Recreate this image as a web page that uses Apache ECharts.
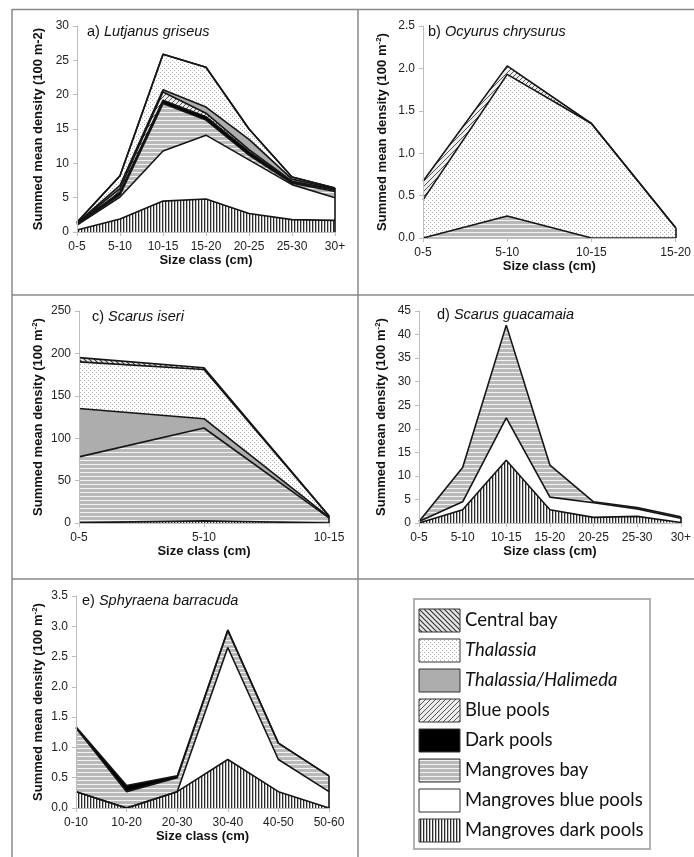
<!DOCTYPE html>
<html><head><meta charset="utf-8">
<script src="https://cdn.jsdelivr.net/npm/echarts@6/dist/echarts.min.js"></script>
<style>html,body{margin:0;padding:0;background:#fff}#c{width:694px;height:857px}</style>
</head><body><div id="c"></div>
<script>
// ---------- DATA ----------
const legendNames = ['Central bay','Thalassia','Thalassia/Halimeda','Blue pools','Dark pools','Mangroves bay','Mangroves blue pools','Mangroves dark pools'];

// a) Lutjanus griseus
const catsA = ['0-5','5-10','10-15','15-20','20-25','25-30','30+'];
const aMangrovesDark = [0.3, 1.9, 4.5, 4.8, 2.7, 1.8, 1.7];
const aMangrovesBlue = [0.7, 3.2, 7.3, 9.3, 7.8, 5.1, 3.3];
const aMangrovesBay  = [0.1, 0.3, 6.9, 2.2, 0.7, 0.2, 0.9];
const aDarkPools     = [0.1, 0.4, 0.5, 0.5, 0.5, 0.2, 0.2];
const aBluePools     = [0.05, 0.5, 1.2, 0.5, 0.3, 0.1, 0.1];
const aThalHal       = [0.05, 0.5, 0.3, 0.9, 1.5, 0.3, 0.1];
const aThalassia     = [0.1, 1.4, 5.2, 5.8, 1.5, 0.3, 0.1];
const aCentralBay    = [0, 0, 0, 0, 0, 0, 0];

// b) Ocyurus chrysurus
const catsB = ['0-5','5-10','10-15','15-20'];
const bMangrovesBay = [0, 0.26, 0, 0];
const bThalassia    = [0.45, 1.67, 1.35, 0.12];
const bBluePools    = [0.22, 0.1, 0, 0];

// c) Scarus iseri
const catsC = ['0-5','5-10','10-15'];
const cMangrovesDark = [0.5, 2.5, 0];
const cMangrovesBay  = [77.5, 109.5, 6];
const cThalHal       = [57, 11, 1];
const cThalassia     = [55, 58, 1];
const cCentralBay    = [5, 2, 0.5];

// d) Scarus guacamaia
const catsD = ['0-5','5-10','10-15','15-20','20-25','25-30','30+'];
const dMangrovesDark = [0, 2.8, 13.3, 2.8, 1.2, 1.4, 0.1];
const dMangrovesBlue = [0.3, 1.7, 9.0, 2.7, 3.1, 1.6, 0.9];
const dMangrovesBay  = [0, 7.3, 19.7, 6.8, 0.2, 0.3, 0.3];

// e) Sphyraena barracuda
const catsE = ['0-10','10-20','20-30','30-40','40-50','50-60'];
const eMangrovesDark = [0.27, 0, 0.27, 0.8, 0.27, 0];
const eMangrovesBlue = [0, 0, 0, 1.85, 0.53, 0.27];
const eMangrovesBay  = [1.05, 0.27, 0.23, 0.28, 0.27, 0.26];
const eDarkPools     = [0.02, 0.1, 0.03, 0.01, 0, 0];

// y-axis ticks
const yMax = [30, 2.5, 250, 45, 3.5];
const yStep = [5, 0.5, 50, 5, 0.5];
const yDec = [0, 1, 0, 0, 1];
const titlesN = ['a) ','b) ','c) ','d) ','e) '];
const titlesI = ['Lutjanus griseus','Ocyurus chrysurus','Scarus iseri','Scarus guacamaia','Sphyraena barracuda'];

// ---------- PATTERNS ----------
function pat(w, h, draw){
  const c = document.createElement('canvas'); c.width = w; c.height = h;
  const g = c.getContext('2d'); g.fillStyle = '#fff'; g.fillRect(0,0,w,h); draw(g, w, h);
  return {image: c, repeat: 'repeat'};
}
const fills = {
  'Central bay': pat(5,5,(g,w,h)=>{g.fillStyle='#e6e6e6';g.fillRect(0,0,w,h);g.strokeStyle='#333';g.lineWidth=1.1;g.beginPath();g.moveTo(-1,-1);g.lineTo(w+1,h+1);g.moveTo(-1,h-1);g.lineTo(1,h+1);g.moveTo(w-1,-1);g.lineTo(w+1,1);g.stroke();}),
  'Thalassia': pat(4,4,(g)=>{g.fillStyle='#b0b0b0';g.fillRect(0,0,1,1);g.fillRect(2,2,1,1);}),
  'Thalassia/Halimeda': '#adadad',
  'Blue pools': pat(5,5,(g,w,h)=>{g.fillStyle='#ededed';g.fillRect(0,0,w,h);g.strokeStyle='#555';g.lineWidth=1;g.beginPath();g.moveTo(-1,h+1);g.lineTo(w+1,-1);g.moveTo(-1,1);g.lineTo(1,-1);g.moveTo(w-1,h+1);g.lineTo(w+1,h-1);g.stroke();}),
  'Dark pools': '#000',
  'Mangroves bay': pat(1,4,(g)=>{g.fillStyle='#b9b9b9';g.fillRect(0,1,1,3);g.fillStyle='#f2f2f2';g.fillRect(0,0,1,1);}),
  'Mangroves blue pools': '#ffffff',
  'Mangroves dark pools': pat(3,1,(g)=>{g.fillStyle='#2a2a2a';g.fillRect(0,0,1,1);g.fillStyle='#bdbdbd';g.fillRect(1,0,1,1);})
};

// ---------- LAYOUT ----------
const FONT = "'Liberation Sans', Arial, sans-serif";
const grids = [
  {left:77, top:26, width:258, height:206},
  {left:423, top:26, width:253, height:212},
  {left:79, top:311, width:250, height:212},
  {left:419, top:311, width:263, height:212},
  {left:76, top:596, width:253, height:212}
];
const titlePos = [[87,24],[428,24],[92,309],[437,307],[82,593]];
const cats = [catsA, catsB, catsC, catsD, catsE];

const panelSeries = [
  [['Mangroves dark pools',aMangrovesDark],['Mangroves blue pools',aMangrovesBlue],['Mangroves bay',aMangrovesBay],['Dark pools',aDarkPools],['Blue pools',aBluePools],['Thalassia/Halimeda',aThalHal],['Thalassia',aThalassia],['Central bay',aCentralBay]],
  [['Mangroves bay',bMangrovesBay],['Thalassia',bThalassia],['Blue pools',bBluePools]],
  [['Mangroves dark pools',cMangrovesDark],['Mangroves bay',cMangrovesBay],['Thalassia/Halimeda',cThalHal],['Thalassia',cThalassia],['Central bay',cCentralBay]],
  [['Mangroves dark pools',dMangrovesDark],['Mangroves blue pools',dMangrovesBlue],['Mangroves bay',dMangrovesBay]],
  [['Mangroves dark pools',eMangrovesDark],['Mangroves blue pools',eMangrovesBlue],['Mangroves bay',eMangrovesBay],['Dark pools',eDarkPools]]
];

const axisGray = '#bdbdbd';
const xAxes = cats.map((c,i)=>({
  type:'category', gridIndex:i, data:c, boundaryGap:false,
  axisLine:{show:true, lineStyle:{color:axisGray, width:1}},
  axisTick:{show:true, length:4, lineStyle:{color:axisGray}},
  axisLabel:{fontSize:12, color:'#222', fontFamily:FONT, margin:9, interval:0},
  name:'Size class (cm)', nameLocation:'middle', nameGap:22,
  nameTextStyle:{fontSize:13, fontWeight:'bold', color:'#111', fontFamily:FONT},
  z:10
}));
const yAxes = yMax.map((m,i)=>({
  type:'value', gridIndex:i, min:0, max:m, interval:yStep[i],
  splitLine:{show:false},
  axisLine:{show:true, lineStyle:{color:axisGray, width:1}},
  axisTick:{show:true, length:4, lineStyle:{color:axisGray}},
  axisLabel:{fontSize:12, color:'#222', fontFamily:FONT, margin:8, formatter:v=>v.toFixed(yDec[i])},
  name: i===0 ? 'Summed mean density (100 m-2)' : '{n|Summed mean density (100 m}{s|-2}{n|)}',
  nameLocation:'middle', nameGap:[32,33,33,30,30][i],
  nameTextStyle:{fontSize:13, fontWeight:'bold', color:'#111', fontFamily:FONT,
    rich:{n:{fontSize:13, fontWeight:'bold', color:'#111', fontFamily:FONT, lineHeight:15},
          s:{fontSize:8, fontWeight:'bold', color:'#111', fontFamily:FONT, verticalAlign:'top', lineHeight:15}}},
  z:10
}));
const titles = titlesN.map((t,i)=>({
  text:'{n|'+t+'}{i|'+titlesI[i]+'}', left:titlePos[i][0], top:titlePos[i][1], padding:0,
  textStyle:{fontWeight:'normal', fontSize:14.5, fontFamily:FONT,
    rich:{n:{fontSize:14.5, fontWeight:'normal', color:'#111', fontFamily:FONT},
          i:{fontSize:14.5, fontWeight:'normal', fontStyle:'italic', color:'#111', fontFamily:FONT}}}
}));

const series = [];
panelSeries.forEach((list,i)=>{
  // total height at the last category, for the closing edge of the stacked polygon
  const last = cats[i].length - 1;
  const total = list.reduce((s,[,d])=>s+d[last],0);
  list.forEach(([name,data],k)=>{
    const s = {
      type:'line', name:name, xAxisIndex:i, yAxisIndex:i, stack:'p'+i, data:data,
      symbol:'none', showSymbol:false, silent:true,
      lineStyle:{color:'#151515', width:1.6},
      areaStyle:{color:fills[name], opacity:1},
      emphasis:{disabled:true}
    };
    if (k === 0 && total > 0) {
      s.markLine = {silent:true, symbol:'none', label:{show:false},
        lineStyle:{color:'#151515', width:1.6, type:'solid'},
        data:[[{coord:[cats[i][last],0]},{coord:[cats[i][last],total]}]]};
    }
    series.push(s);
  });
});

// ---------- FRAME + LEGEND (graphic) ----------
const frameColor = '#8a8a8a';
const graphic = [
  {type:'line', shape:{x1:12,y1:9.5,x2:694,y2:9.5}, style:{stroke:frameColor,lineWidth:1.5}},
  {type:'line', shape:{x1:12,y1:9,x2:12,y2:857}, style:{stroke:frameColor,lineWidth:1.5}},
  {type:'line', shape:{x1:358,y1:9,x2:358,y2:857}, style:{stroke:frameColor,lineWidth:1.5}},
  {type:'line', shape:{x1:12,y1:295,x2:694,y2:295}, style:{stroke:frameColor,lineWidth:1.5}},
  {type:'line', shape:{x1:12,y1:579,x2:694,y2:579}, style:{stroke:frameColor,lineWidth:1.5}},
  {type:'rect', shape:{x:414,y:599,width:236,height:250}, style:{fill:'#fff',stroke:'#999',lineWidth:1.5}}
];
legendNames.forEach((n,k)=>{
  const y = 609 + 30*k;
  graphic.push({type:'rect', shape:{x:419,y:y,width:41,height:23}, style:{fill:fills[n], stroke:'#333', lineWidth:1}});
  const ital = (n==='Thalassia' || n==='Thalassia/Halimeda');
  graphic.push({type:'text', x:465, y:y+11.5, style:{text:n, fill:'#111', fontSize:18.5, fontFamily:'Lato, "Open Sans", sans-serif', fontStyle: ital?'italic':'normal', verticalAlign:'middle', align:'left'}});
});

const chart = echarts.init(document.getElementById('c'), null, {renderer:'canvas'});
chart.setOption({
  animation:false,
  backgroundColor:'#fff',
  title:titles,
  grid:grids,
  xAxis:xAxes,
  yAxis:yAxes,
  series:series,
  graphic:graphic
});
</script></body></html>
